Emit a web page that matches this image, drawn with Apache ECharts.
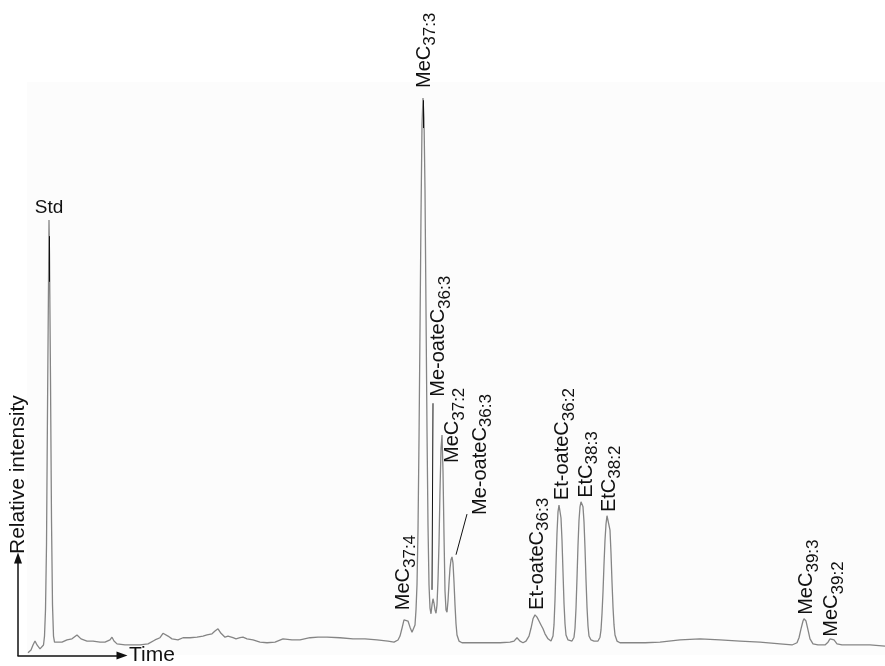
<!DOCTYPE html>
<html>
<head>
<meta charset="utf-8">
<script src="https://cdn.jsdelivr.net/npm/echarts@6/dist/echarts.min.js"></script>
<style>
  html, body { margin: 0; padding: 0; background: #ffffff; }
  #chart { width: 885px; height: 666px; }
</style>
</head>
<body>
<div id="chart"></div>
<script>
// Chromatogram trace: scan number vs. relative intensity (%)
const traceTime = [
  28, 31, 33, 35, 37, 40, 42,
  43.5, 44.5, 45.5, 46.5, 47.5, 48.5, 49, 49.5, 50.5, 51.5, 52.5, 53.5, 54.5,
  56, 62, 67, 72, 77, 81, 87, 93, 100, 105, 107, 110, 112, 114, 117, 125, 133, 140, 148, 155,
  160, 163, 165, 168, 172, 178, 183, 190, 197, 203, 207, 212, 215, 218, 221, 225, 228, 230,
  233, 236, 240, 243, 247, 253, 260, 267, 275, 283, 292, 300, 310, 318, 327, 340, 353, 365,
  377, 388, 394, 398, 400, 402, 404, 406, 408, 410, 412, 414,
  415, 416, 417, 418, 419, 420, 421, 422, 423, 424, 425, 426, 427, 428, 429, 430, 431, 432,
  433, 434, 435, 436, 437, 438, 439, 440, 441, 442, 443, 444, 445, 446, 447, 448, 449, 450,
  451, 452, 453, 454, 455, 456, 457, 459, 462,
  470, 480, 490, 500, 510, 514, 517, 520, 523, 526, 529, 531, 533, 535, 537, 539, 541, 543, 545, 548, 551,
  553, 554, 555, 556, 557, 558, 559, 560, 561, 562, 563, 564, 565, 566, 568, 570,
  572, 574, 575, 576, 577, 578, 579, 580, 581, 582, 583, 584, 585, 586, 587, 588, 589, 591, 594,
  598, 600, 601, 602, 603, 604, 605, 606, 607, 608, 609, 610, 611, 612, 613, 614, 615, 617, 620,
  630, 645, 660, 680, 700, 720, 740, 760, 780, 792, 797, 799, 801, 803, 804, 806, 808, 810, 813,
  818, 825, 828, 830, 832, 834, 837, 842, 855, 870, 885
];
const traceIntensity = [
  0.4, 0.9, 1.8, 2.5, 1.8, 1.1, 1.4,
  1.8, 3.4, 8.1, 19.7, 44.0, 66.4, 78.1, 71.8, 49.4, 24.2, 9.0, 3.4, 2.3,
  2.2, 2.3, 2.7, 2.9, 3.6, 2.9, 2.5, 2.5, 2.3, 2.3, 2.2, 2.7, 3.2, 2.5, 2.0, 1.8, 1.8, 1.8, 2.0, 2.7,
  3.1, 3.9, 4.1, 3.4, 2.9, 2.7, 3.1, 3.1, 3.2, 3.4, 3.6, 3.8, 4.3, 4.7, 3.9, 3.2, 3.4, 3.6,
  3.1, 2.9, 3.1, 3.2, 2.9, 2.7, 2.3, 2.2, 2.3, 2.9, 2.7, 2.7, 3.1, 3.2, 3.2, 3.1, 2.9, 2.9,
  2.7, 2.5, 2.3, 2.7, 3.4, 4.8, 6.3, 6.6, 6.1, 5.0, 4.1, 4.3,
  5.4, 8.1, 12.6, 22.4, 38.6, 58.3, 79.0, 95.2, 100, 96.4, 83.5, 61.9, 40.4, 23.3, 12.6, 8.4, 7.4, 9.0,
  10.1, 9.3, 8.1, 7.5, 9.0, 13.5, 20.0, 29.5, 37.0, 39.5, 33.0, 21.5, 11.5, 8.1, 7.7, 9.7, 12.9, 15.6,
  17.1, 17.6, 16.5, 13.1, 9.0, 5.6, 3.6, 2.5, 2.2,
  2.2, 2.2, 2.2, 2.2, 2.3, 2.5, 3.1, 2.5, 2.2, 2.5, 3.4, 4.8, 6.5, 7.2, 6.8, 6.1, 5.4, 4.7, 3.8, 2.9, 2.5,
  3.4, 5.4, 9.9, 16.2, 21.9, 25.7, 26.9, 26.8, 24.6, 20.6, 14.9, 9.3, 5.6, 3.6, 2.7, 2.5,
  2.5, 3.2, 4.8, 8.4, 13.8, 19.7, 24.2, 26.6, 27.5, 27.5, 26.6, 23.9, 19.2, 13.5, 8.6, 5.2, 3.4, 2.7, 2.5,
  2.5, 3.2, 4.5, 7.4, 11.3, 16.3, 20.6, 23.5, 25.0, 25.3, 24.8, 22.4, 18.3, 13.1, 8.6, 5.4, 3.6, 2.5, 2.2,
  2.2, 2.2, 2.3, 2.7, 2.9, 2.7, 2.5, 2.3, 2.0, 1.8, 2.2, 3.1, 4.7, 6.1, 6.5, 6.1, 4.5, 2.9, 2.0,
  1.8, 1.8, 2.3, 2.9, 3.1, 2.7, 2.0, 1.8, 1.8, 1.8, 1.6
];

// Identified peaks: apex scan, apex intensity, compound name and chain subscript
const peakTime = [49, 406, 423, 433, 442, 452, 535, 559, 581.5, 608, 804, 832];
const peakIntensity = [78.1, 6.6, 100, 10.1, 39.5, 17.6, 7.2, 26.9, 27.5, 25.3, 6.5, 3.1];
const peakName = ['Std', 'MeC', 'MeC', 'Me-oateC', 'MeC', 'Me-oateC',
                  'Et-oateC', 'Et-oateC', 'EtC', 'EtC', 'MeC', 'MeC'];
const peakSub = ['', '37:4', '37:3', '36:3', '37:2', '36:3',
                 '36:3', '36:2', '38:3', '38:2', '39:3', '39:2'];

// Leader segments in data units: [scan1, intensity1, scan2, intensity2]
const leaderLines = [
  [49, 75.2, 49, 67.0],
  [423, 99.6, 423, 94.6],
  [433, 45.2, 432, 11.7],
  [467, 25.3, 456, 18.0]
];

const axisNameX = 'Time';
const axisNameY = 'Relative intensity';

// ---- presentation ----
const FONT = '"Liberation Sans", Arial, Helvetica, sans-serif';
const INK = '#111111';
// on-screen shift (px) of each rotated peak label's start point from its apex
const labelShift = [
  [0, 0], [-1.5, -8], [2, -10], [6.5, -202], [11.5, 28], [29, -42],
  [3, -5], [4.5, -5], [5.5, -4], [2, -2], [3.5, -4], [0.5, -1]
];

const chart = echarts.init(document.getElementById('chart'), null, { renderer: 'canvas' });

const tracePoints = traceTime.map((t, i) => [t, traceIntensity[i]]);

const peakData = peakTime.map((t, i) => {
  const item = { value: [t, peakIntensity[i]] };
  if (!peakSub[i]) {
    item.label = {
      rotate: 0, position: 'top', distance: 2, align: 'center', verticalAlign: 'bottom',
      formatter: peakName[i], fontSize: 19, color: INK, fontFamily: FONT, opacity: 1
    };
  }
  return item;
});

const option = {
  backgroundColor: '#ffffff',
  animation: false,
  grid: [
    { left: 0, right: 0, top: 98, bottom: 11 },
    { left: 18, top: 558, width: 104, height: 99 }
  ],
  xAxis: [
    { gridIndex: 0, type: 'value', min: 0, max: 885, show: false },
    {
      gridIndex: 1, type: 'value', min: 0, max: 1,
      axisLine: { show: true, onZero: false, symbol: ['none', 'triangle'], symbolSize: [8, 11],
        lineStyle: { color: '#111', width: 1.5 } },
      axisTick: { show: false }, axisLabel: { show: false }, splitLine: { show: false },
      name: axisNameX, nameLocation: 'end', nameGap: 7,
      nameTextStyle: { fontSize: 21, color: INK, fontFamily: FONT }
    }
  ],
  yAxis: [
    { gridIndex: 0, type: 'value', min: 0, max: 100, show: false },
    {
      gridIndex: 1, type: 'value', min: 0, max: 1,
      axisLine: { show: true, onZero: false, symbol: ['none', 'triangle'], symbolSize: [8, 11],
        lineStyle: { color: '#111', width: 1.5 } },
      axisTick: { show: false }, axisLabel: { show: false }, splitLine: { show: false },
      name: axisNameY, nameLocation: 'end', nameRotate: 90, nameGap: 4,
      nameTextStyle: { fontSize: 21, color: INK, fontFamily: FONT, padding: [0, 0, 8, 0] }
    }
  ],
  graphic: [
    { type: 'rect', z: -10, silent: true, shape: { x: 27, y: 82, width: 858, height: 573 },
      style: { fill: '#fcfcfc' } }
  ],
  series: [
    {
      type: 'line', xAxisIndex: 0, yAxisIndex: 0,
      data: tracePoints, showSymbol: false, symbol: 'none', smooth: false,
      lineStyle: { color: '#858585', width: 1.3 },
      markLine: {
        silent: true, symbol: ['none', 'none'], label: { show: false },
        lineStyle: { color: '#111', width: 1, type: 'solid' },
        data: leaderLines.map(s => [{ coord: [s[0], s[1]] }, { coord: [s[2], s[3]] }])
      },
      z: 3
    },
    {
      type: 'scatter', xAxisIndex: 0, yAxisIndex: 0,
      data: peakData, symbolSize: 1, itemStyle: { color: 'transparent', opacity: 1 },
      label: {
        show: true, rotate: 90, position: 'inside', align: 'left', verticalAlign: 'middle',
        color: INK, fontFamily: FONT, opacity: 1,
        formatter: p => `{m|${peakName[p.dataIndex]}}{s|${peakSub[p.dataIndex]}}`,
        rich: {
          m: { fontSize: 20, lineHeight: 22, color: INK, fontFamily: FONT, verticalAlign: 'top' },
          s: { fontSize: 17, lineHeight: 17, color: INK, fontFamily: FONT, verticalAlign: 'top',
               padding: [8, 0, 0, 0] }
        }
      },
      // the label frame is turned 90° anticlockwise, so a screen shift (sx, sy)
      // becomes (-sy, sx) in the label's own axes
      labelLayout: p => {
        const s = labelShift[p.dataIndex];
        return peakSub[p.dataIndex] ? { dx: -s[1], dy: s[0] } : {};
      },
      z: 4
    }
  ]
};

chart.setOption(option);
</script>
</body>
</html>
